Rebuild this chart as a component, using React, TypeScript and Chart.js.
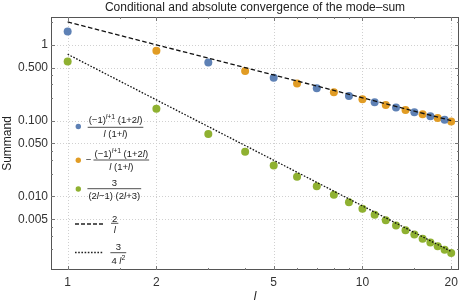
import { useEffect, useRef } from 'react';
import { Chart, registerables } from 'chart.js';
Chart.register(...registerables);

const FONT = '"Liberation Sans", Arial, sans-serif';

// Data (summand values vs l)
const blueL = [1, 3, 5, 7, 9, 11, 13, 15, 17, 19];
const blueV = [1.5, 0.5833, 0.3667, 0.2679, 0.2111, 0.1742, 0.1484, 0.1292, 0.1144, 0.1026];
const orangeL = [2, 4, 6, 8, 10, 12, 14, 16, 18, 20];
const orangeV = [0.8333, 0.45, 0.3095, 0.2361, 0.1909, 0.1603, 0.1381, 0.1213, 0.1082, 0.0976];
const greenL = [1, 2, 3, 4, 5, 6, 7, 8, 9, 10, 11, 12, 13, 14, 15, 16, 17, 18, 19, 20];
const greenV = [0.6, 0.1429, 0.0667, 0.03896, 0.02564, 0.01818, 0.01357, 0.01053, 0.008403, 0.006865,
  0.005714, 0.004831, 0.004138, 0.003584, 0.003135, 0.002765, 0.002457, 0.002198, 0.001978, 0.001789];
const lineL = [1, 2, 5, 10, 20];
const dashedV = [2, 1, 0.4, 0.2, 0.1];
const dottedV = [0.75, 0.1875, 0.03, 0.0075, 0.001875];

const xTicks = [1, 2, 5, 10, 20];
const xTickLabels = ['1', '2', '5', '10', '20'];
const xMinor = [1.5, 3, 4, 6, 7, 8, 9, 15];
const yTicks = [0.005, 0.01, 0.05, 0.1, 0.5, 1];
const yTickLabels = ['0.005', '0.010', '0.050', '0.100', '0.500', '1'];
const yMinor = [0.002, 0.003, 0.004, 0.02, 0.03, 0.04, 0.2, 0.3, 0.4, 2];

const BLUE = '#5E81B5';
const ORANGE = '#E19C24';
const GREEN = '#8FB131';

type Run = { t: string; i?: boolean; s?: boolean };

function drawRuns(ctx: CanvasRenderingContext2D, runs: Run[], cx: number, base: number, size: number) {
  const fontOf = (r: Run) => `${r.i ? 'italic ' : ''}${r.s ? size * 0.72 : size}px ${FONT}`;
  let w = 0;
  const ws = runs.map((r) => { ctx.font = fontOf(r); const m = ctx.measureText(r.t).width; w += m; return m; });
  let x = cx - w / 2;
  ctx.textAlign = 'left';
  ctx.textBaseline = 'alphabetic';
  runs.forEach((r, k) => {
    ctx.font = fontOf(r);
    ctx.fillText(r.t, x, r.s ? base - size * 0.42 : base);
    x += ws[k];
  });
  return w;
}

function fraction(ctx: CanvasRenderingContext2D, num: Run[], den: Run[], cx: number, barY: number, numBase: number, denBase: number, size: number) {
  const w1 = drawRuns(ctx, num, cx, numBase, size);
  const w2 = drawRuns(ctx, den, cx, denBase, size);
  const w = Math.max(w1, w2) + 2;
  ctx.beginPath();
  ctx.lineWidth = 0.8;
  ctx.strokeStyle = '#222';
  ctx.moveTo(cx - w / 2, barY);
  ctx.lineTo(cx + w / 2, barY);
  ctx.stroke();
}

const decorPlugin = {
  id: 'decor',
  beforeDatasetsDraw(chart: any) {
    const { ctx, chartArea: a, scales } = chart;
    ctx.save();
    ctx.strokeStyle = '#d0d0d0';
    ctx.lineWidth = 1;
    ctx.setLineDash([1, 2]);
    xTicks.forEach((v) => {
      const x = Math.round(scales.x.getPixelForValue(v)) + 0.5;
      ctx.beginPath(); ctx.moveTo(x, a.top); ctx.lineTo(x, a.bottom); ctx.stroke();
    });
    yTicks.forEach((v) => {
      const y = Math.round(scales.y.getPixelForValue(v)) + 0.5;
      ctx.beginPath(); ctx.moveTo(a.left, y); ctx.lineTo(a.right, y); ctx.stroke();
    });
    ctx.restore();
  },
  afterDatasetsDraw(chart: any) {
    const { ctx, chartArea: a, scales } = chart;
    ctx.save();
    ctx.setLineDash([]);
    ctx.strokeStyle = '#555';
    ctx.lineWidth = 1;
    ctx.strokeRect(a.left + 0.5, a.top + 0.5, a.right - a.left - 1, a.bottom - a.top - 1);
    ctx.strokeStyle = '#777';
    const tickX = (v: number, len: number) => {
      const x = Math.round(scales.x.getPixelForValue(v)) + 0.5;
      ctx.beginPath();
      ctx.moveTo(x, a.bottom); ctx.lineTo(x, a.bottom - len);
      ctx.moveTo(x, a.top); ctx.lineTo(x, a.top + len);
      ctx.stroke();
    };
    const tickY = (v: number, len: number) => {
      const y = Math.round(scales.y.getPixelForValue(v)) + 0.5;
      ctx.beginPath();
      ctx.moveTo(a.left, y); ctx.lineTo(a.left + len, y);
      ctx.moveTo(a.right, y); ctx.lineTo(a.right - len, y);
      ctx.stroke();
    };
    xTicks.forEach((v) => tickX(v, 4));
    xMinor.forEach((v) => tickX(v, 2));
    yTicks.forEach((v) => tickY(v, 4));
    yMinor.forEach((v) => tickY(v, 2));

    // Title and axis labels
    ctx.fillStyle = '#222';
    ctx.font = `12px ${FONT}`;
    ctx.textAlign = 'center';
    ctx.textBaseline = 'middle';
    ctx.fillText('Conditional and absolute convergence of the mode\u2013sum', (a.left + a.right) / 2, 8);
    ctx.save();
    ctx.translate(8, (a.top + a.bottom) / 2);
    ctx.rotate(-Math.PI / 2);
    ctx.fillText('Summand', 0, 0);
    ctx.restore();
    ctx.font = `italic 12px ${FONT}`;
    ctx.fillText('l', (a.left + a.right) / 2, 297);

    // Legend
    const fs = 9.5;
    const dot = (x: number, y: number, c: string) => {
      ctx.beginPath(); ctx.fillStyle = c; ctx.arc(x, y, 2.7, 0, Math.PI * 2); ctx.fill();
    };
    dot(78.3, 126.5, BLUE);
    ctx.fillStyle = '#222';
    const numA: Run[] = [{ t: '(\u22121)' }, { t: 'l', i: true, s: true }, { t: '+1', s: true }, { t: ' (1+2' }, { t: 'l', i: true }, { t: ')' }];
    const denA: Run[] = [{ t: 'l', i: true }, { t: ' (1+' }, { t: 'l', i: true }, { t: ')' }];
    fraction(ctx, numA, denA, 115.5, 127.3, 123, 136.6, fs);
    dot(78.3, 160.3, ORANGE);
    ctx.fillStyle = '#222';
    ctx.font = `${fs}px ${FONT}`;
    ctx.textAlign = 'center';
    ctx.textBaseline = 'middle';
    ctx.fillText('\u2212', 88.5, 160.3);
    fraction(ctx, numA, denA, 121.3, 160, 156.5, 169.8, fs);
    dot(78.3, 189, GREEN);
    ctx.fillStyle = '#222';
    fraction(ctx, [{ t: '3' }],
      [{ t: '(2' }, { t: 'l', i: true }, { t: '\u22121) (2' }, { t: 'l', i: true }, { t: '+3)' }],
      114.3, 188.7, 186.2, 198.6, fs);
    ctx.strokeStyle = '#222';
    ctx.lineWidth = 1.3;
    ctx.setLineDash([4, 2]);
    ctx.beginPath(); ctx.moveTo(75, 224); ctx.lineTo(103.3, 224); ctx.stroke();
    ctx.setLineDash([1.6, 1.6]);
    ctx.beginPath(); ctx.moveTo(75, 252.5); ctx.lineTo(103.3, 252.5); ctx.stroke();
    ctx.setLineDash([]);
    fraction(ctx, [{ t: '2' }], [{ t: 'l', i: true }], 114.7, 223.3, 221.8, 232.6, fs);
    fraction(ctx, [{ t: '3' }], [{ t: '4 ' }, { t: 'l', i: true }, { t: '2', s: true }], 118.3, 252.7, 249.5, 263.5, fs);
    ctx.restore();
  },
};

export default function App() {
  const ref = useRef<HTMLCanvasElement>(null);
  useEffect(() => {
    document.body.style.margin = '0';
    const pts = (xs: number[], ys: number[]) => xs.map((x, k) => ({ x, y: ys[k] }));
    const chart = new Chart(ref.current!, {
      type: 'scatter',
      data: {
        datasets: [
          { data: pts(lineL, dashedV), showLine: true, borderColor: '#111', borderWidth: 1.3, borderDash: [4.5, 2.5], pointRadius: 0, order: 0 } as any,
          { data: pts(lineL, dottedV), showLine: true, borderColor: '#111', borderWidth: 1.3, borderDash: [1.6, 1.6], pointRadius: 0, order: 0 } as any,
          { data: pts(blueL, blueV), backgroundColor: BLUE, borderWidth: 0, pointRadius: 4, order: 1 },
          { data: pts(orangeL, orangeV), backgroundColor: ORANGE, borderWidth: 0, pointRadius: 4, order: 1 },
          { data: pts(greenL, greenV), backgroundColor: GREEN, borderWidth: 0, pointRadius: 4, order: 1 },
        ],
      },
      options: {
        responsive: false,
        animation: false,
        layout: { padding: { top: 17, right: 4, left: 0, bottom: 0 } },
        plugins: { legend: { display: false }, title: { display: false }, tooltip: { enabled: false } },
        scales: {
          x: {
            type: 'logarithmic',
            min: 0.878,
            max: 21.26,
            grid: { display: false, drawTicks: false },
            border: { display: false },
            ticks: {
              autoSkip: false, maxRotation: 0, padding: 5, color: '#333',
              font: { size: 12, family: FONT },
              callback: (_v: any, i: number) => xTickLabels[i],
            },
            afterBuildTicks: (s: any) => { s.ticks = xTicks.map((v) => ({ value: v })); },
            afterFit: (s: any) => { s.height = 36; },
          },
          y: {
            type: 'logarithmic',
            min: 0.001069,
            max: 2.327,
            grid: { display: false, drawTicks: false },
            border: { display: false },
            ticks: {
              autoSkip: false, padding: 3, color: '#333',
              font: { size: 12, family: FONT },
              callback: (_v: any, i: number) => yTickLabels[i],
            },
            afterBuildTicks: (s: any) => { s.ticks = yTicks.map((v) => ({ value: v })); },
            afterFit: (s: any) => { s.width = 51; },
          },
        },
      },
      plugins: [decorPlugin],
    });
    return () => chart.destroy();
  }, []);
  return (
    <div style={{ position: 'absolute', left: 0, top: 0, width: 463, height: 306 }}>
      <canvas ref={ref} width={463} height={306} style={{ width: 463, height: 306 }} />
    </div>
  );
}
